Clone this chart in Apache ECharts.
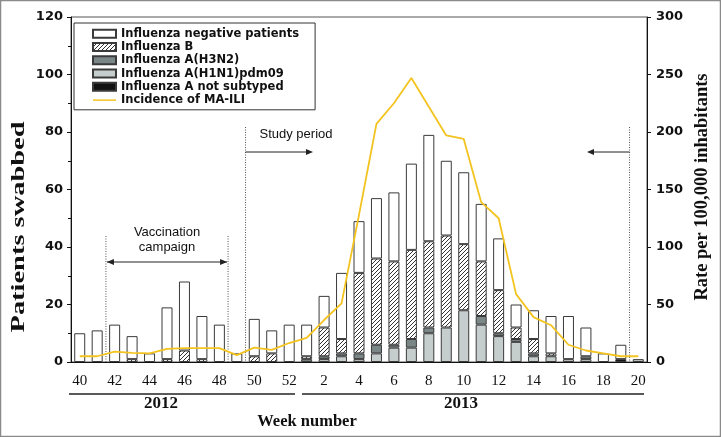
<!DOCTYPE html>
<html><head><meta charset="utf-8">
<script src="https://cdn.jsdelivr.net/npm/echarts@6/dist/echarts.min.js"></script>
<style>html,body{margin:0;padding:0;background:#fff}#c{width:721px;height:437px}</style>
</head><body><div id="c"></div>
<script>
// ---- data (weeks 40-52 of 2012, 1-20 of 2013) ----
const weeks = ['40','41','42','43','44','45','46','47','48','49','50','51','52',
               '1','2','3','4','5','6','7','8','9','10','11','12','13','14','15','16','17','18','19','20'];
const negative    = [10,11,13,8,3,18,24,15,13,3,13,8,13, 11,11,23,18,21,24,30,37,26,25,20,18,8,10,13,15,10,3,5,0];
const fluB        = [0,0,0,1,0,1,4,1,0,0,2,3,0, 1,10,5,28,30,29,31,30,32,23,19,15,4,5,1,0,0,0,0,0];
const h3n2        = [0,0,0,0,0,0,0,0,0,0,0,0,0, 1,1,1,2,3,1,3,2,0,0,3,1,1,1,0,0,1,0,0,0];
const h1n1        = [0,0,0,0,0,0,0,0,0,0,0,0,0, 0,1,2,1,3,5,5,10,12,18,13,9,7,2,2,1,1,0,0,1];
const notSubtyped = [0,0,0,0,0,0,0,0,0,0,0,0,0, 0,0,0,0,0,0,0,0,0,0,0,0,0,0,0,0,0,0,1,0];
const incidence   = [5,5,9,8,7.5,11.5,12,12,12,6,12.5,10.5,16.5, 21,36.5,51,128,207,225,247,222,197,194,139,125,59,39,32,15,10,7.5,5,5];
const leftTicks = {min:0, max:120, step:20};
const rightTicks = {min:0, max:300, step:50};

const names = {
  neg:'Influenza negative patients', b:'Influenza B', h3:'Influenza A(H3N2)',
  h1:'Influenza A(H1N1)pdm09', ns:'Influenza A not subtyped', inc:'Incidence of MA-ILI'
};

// hatch pattern
const pc = document.createElement('canvas');
pc.width = 4; pc.height = 4;
const g = pc.getContext('2d');
g.fillStyle = '#fff'; g.fillRect(0,0,4,4);
g.strokeStyle = '#333'; g.lineWidth = 1;
g.beginPath();
g.moveTo(-1,5); g.lineTo(5,-1);
g.moveTo(-1,1); g.lineTo(1,-1);
g.moveTo(3,5); g.lineTo(5,3);
g.stroke();
const hatch = {image: pc, repeat: 'repeat'};

const nz = a => a.map(v => v ? v : null);
const border = '#3a3a3a';
function barSeries(name, data, color) {
  return {
    name, type:'bar', stack:'s', data: nz(data), barWidth: 11,
    itemStyle:{color, borderColor:border, borderWidth:1},
    emphasis:{disabled:true}
  };
}
const axisFont = {fontFamily:'DejaVu Sans', fontWeight:'bold', fontSize:13, color:'#111'};
const option = {
  animation:false,
  grid:{left:71, right:74, top:17, bottom:75, show:true, borderColor:'#555', borderWidth:1},
  legend:{
    orient:'vertical', left:74, top:23, padding:[4,16,3,18], itemGap:0,
    itemWidth:23, itemHeight:8, borderColor:'#333', borderWidth:1, backgroundColor:'#fff',
    textStyle:{fontFamily:'DejaVu Sans', fontWeight:'bold', fontSize:11.5, color:'#111', lineHeight:13.3},
    data:[
      {name:names.neg, icon:'rect'},{name:names.b, icon:'rect'},{name:names.h3, icon:'rect'},
      {name:names.h1, icon:'rect'},{name:names.ns, icon:'rect'},
      {name:names.inc, icon:'path://M0,0 L46,0 L46,3 L0,3 Z', itemStyle:{color:'#f3c31f', borderWidth:0}}
    ],
    selectedMode:false
  },
  xAxis:{
    type:'category', data:weeks, boundaryGap:true,
    axisLine:{lineStyle:{color:'#111', width:1}},
    axisTick:{interval:0, length:5, lineStyle:{color:'#111'}},
    axisLabel:{interval:1, fontFamily:'Liberation Serif', fontSize:15, color:'#111', margin:12}
  },
  yAxis:[
    {type:'value', min:leftTicks.min, max:leftTicks.max, interval:leftTicks.step,
     axisLine:{show:true, lineStyle:{color:'#111'}}, axisTick:{show:true, length:4, lineStyle:{color:'#111'}},
     minorTick:{show:true, splitNumber:2, length:3, lineStyle:{color:'#111'}},
     splitLine:{show:false}, axisLabel:Object.assign({margin:8}, axisFont)},
    {type:'value', min:rightTicks.min, max:rightTicks.max, interval:rightTicks.step, position:'right',
     axisLine:{show:true, lineStyle:{color:'#111'}}, axisTick:{show:true, length:4, lineStyle:{color:'#111'}},
     splitLine:{show:false}, axisLabel:Object.assign({margin:9}, axisFont)}
  ],
  series:[
    barSeries(names.ns, notSubtyped, '#111'),
    barSeries(names.h1, h1n1, '#c6cdcd'),
    barSeries(names.h3, h3n2, '#7b8787'),
    barSeries(names.b, fluB, hatch),
    barSeries(names.neg, negative, '#fff'),
    {name:names.inc, type:'line', yAxisIndex:1, data:incidence, symbol:'none', z:5,
     lineStyle:{color:'#f3c31f', width:1.8}, itemStyle:{color:'#f3c31f'}, emphasis:{disabled:true}}
  ]
};
const chart = echarts.init(document.getElementById('c'));
chart.setOption(option);

const cx = i => chart.convertToPixel({xAxisIndex:0}, i);
const step = cx(1) - cx(0);
const bx = b => cx(b) - step/2;
const y0 = chart.convertToPixel({yAxisIndex:0}, 0);
const dot = {stroke:'#555', lineWidth:1, lineDash:[1,1.5]};
const ink = '#222';
function vline(x, top){ return {type:'line', shape:{x1:x, y1:top, x2:x, y2:y0}, style:dot, z:1}; }
function hline(x1, x2, y, w){ return {type:'line', shape:{x1, y1:y, x2, y2:y}, style:{stroke:ink, lineWidth:w||1}, z:10}; }
function head(xTip, y, dir){ return {type:'polygon', shape:{points:[[xTip,y],[xTip-dir*7,y-3],[xTip-dir*7,y+3]]}, style:{fill:ink}, z:10}; }
function txt(t, x, y, font, extra){
  return Object.assign({type:'text', x, y, z:10,
    style:{text:t, font, fill:'#111', align:'center', verticalAlign:'middle', textAlign:'center', textVerticalAlign:'middle'}}, extra||{});
}
const vL = bx(2), vR = bx(9), sL = bx(10), sR = bx(32);
const graphics = [
  {type:'rect', shape:{x:0.5, y:0.5, width:720, height:436}, style:{fill:null, stroke:'#8a8a8a', lineWidth:1.5}, z:0},
  vline(vL, 236), vline(vR, 236), vline(sL, 127), vline(sR, 127),
  hline(vL+1, vR-1, 262), head(vL+1, 262, -1), head(vR-1, 262, 1),
  hline(sL, 306, 152), head(313, 152, 1),
  hline(594, sR, 152), head(587, 152, -1),
  txt('Vaccination', (vL+vR)/2, 232, '13px "Liberation Sans"'),
  txt('campaign', (vL+vR)/2, 247, '13px "Liberation Sans"'),
  txt('Study period', 296, 134, '13px "Liberation Sans"'),
  hline(69, 295, 394, 1.3), hline(302, 644, 394, 1.3),
  txt('2012', 161, 404, 'bold 17px "Liberation Serif"'),
  txt('2013', 461, 404, 'bold 17px "Liberation Serif"'),
  txt('Week number', 307, 422, 'bold 16.5px "Liberation Serif"'),
  txt('Patients swabbed', 19, 227, 'bold 18px "Liberation Serif"', {rotation:Math.PI/2, scaleX:1.58}),
  txt('Rate per 100,000 inhabitants', 702, 187, 'bold 18.5px "Liberation Serif"', {rotation:Math.PI/2})
];
chart.setOption({graphic:{elements:graphics}});
</script></body></html>
